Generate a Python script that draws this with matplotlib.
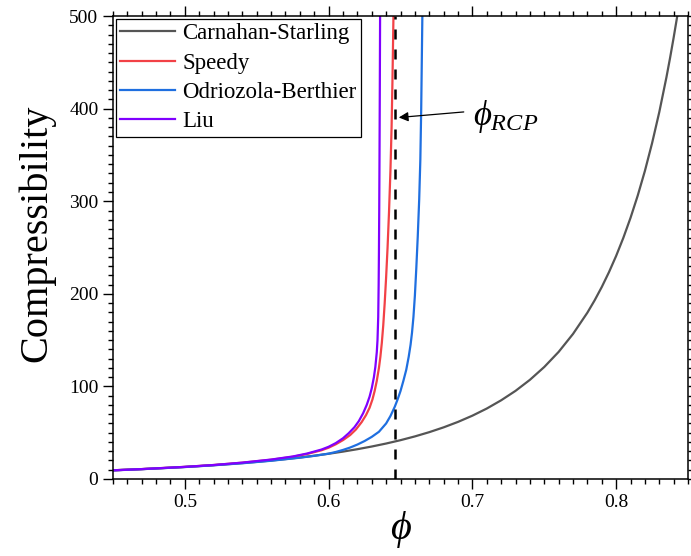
import numpy as np
import matplotlib
matplotlib.use("Agg")
import matplotlib.pyplot as plt
from matplotlib.ticker import MultipleLocator

plt.rcParams['font.family'] = ['Liberation Serif', 'DejaVu Serif']
plt.rcParams['mathtext.fontset'] = 'custom'
plt.rcParams['mathtext.it'] = 'Liberation Serif:italic'
plt.rcParams['mathtext.rm'] = 'Liberation Serif'

# compressibility Z(phi) for each equation of state
phi_cs = [0.45, 0.46, 0.47, 0.48, 0.49, 0.50, 0.51, 0.52, 0.53, 0.54, 0.55,
          0.56, 0.57, 0.58, 0.59, 0.60, 0.61, 0.62, 0.63, 0.64, 0.65, 0.66,
          0.67, 0.68, 0.69, 0.70, 0.71, 0.72, 0.73, 0.74, 0.75, 0.76, 0.77,
          0.78, 0.785, 0.79, 0.795, 0.80, 0.805, 0.81, 0.815, 0.82, 0.825,
          0.83, 0.835, 0.8375, 0.84, 0.8425]
z_cs = [9.39, 10.0, 10.66, 11.38, 12.16, 13.0, 13.92, 14.92, 16.01, 17.2, 18.5,
        19.93, 21.5, 23.23, 25.14, 27.25, 29.59, 32.19, 35.08, 38.31, 41.93, 46.0,
        50.59, 55.79, 61.68, 68.4, 76.1, 85.0, 95.2, 107.1, 121.0, 137.3, 156.7,
        179.7, 192.9, 207.4, 223.4, 241.0, 260.5, 282.1, 306.1, 332.8, 362.8,
        396.3, 434.1, 454.8, 476.8, 500.0]

phi_speedy = [0.45, 0.47, 0.50, 0.52, 0.54, 0.56, 0.575, 0.585, 0.595, 0.60,
              0.605, 0.61, 0.615, 0.619, 0.623, 0.626, 0.6285, 0.6305, 0.632,
              0.6335, 0.635, 0.636, 0.637, 0.638, 0.639, 0.640, 0.641, 0.642,
              0.643, 0.6438, 0.6444, 0.6448, 0.6451]
z_speedy = [9.4, 10.7, 13.1, 15.1, 17.6, 20.8, 24.0, 27.0, 31.0, 33.8,
            37.5, 42.0, 47.5, 53.5, 61.5, 69.0, 77.0, 86.0, 95.0,
            106.0, 120.0, 132.0, 147.0, 166.0, 190.0, 218.0, 250.0, 288.0,
            333.0, 380.0, 430.0, 470.0, 500.0]

phi_ob = [0.45, 0.47, 0.50, 0.52, 0.54, 0.56, 0.58, 0.59, 0.60, 0.605, 0.61,
          0.615, 0.62, 0.625, 0.63, 0.635, 0.64, 0.643, 0.646, 0.648, 0.650,
          0.652, 0.654, 0.6557, 0.657, 0.658, 0.659, 0.660, 0.661, 0.662,
          0.663, 0.6638, 0.6644, 0.6648, 0.6652]
z_ob = [9.3, 10.6, 12.9, 14.8, 17.0, 19.7, 23.0, 25.0, 27.4, 29.2, 31.4,
        34.0, 37.2, 41.0, 45.5, 51.0, 60.0, 68.0, 78.0, 86.0, 95.0,
        106.0, 118.0, 132.0, 145.0, 158.0, 175.0, 198.0, 228.0, 262.0,
        302.0, 345.0, 400.0, 450.0, 500.0]

phi_liu = [0.45, 0.47, 0.50, 0.52, 0.54, 0.56, 0.575, 0.585, 0.595, 0.60,
           0.605, 0.61, 0.614, 0.618, 0.621, 0.624, 0.6265, 0.6285, 0.630,
           0.6315, 0.6325, 0.6335, 0.634, 0.6345, 0.6348, 0.635, 0.6352,
           0.6354, 0.6356, 0.6358]
z_liu = [9.4, 10.7, 13.1, 15.1, 17.7, 21.0, 24.3, 27.5, 31.8, 34.8,
         38.8, 44.0, 49.5, 56.0, 62.5, 71.0, 80.0, 89.0, 98.0,
         110.0, 121.0, 137.0, 150.0, 175.0, 210.0, 245.0, 290.0,
         350.0, 420.0, 500.0]

phi_rcp = 0.646

fig = plt.figure(figsize=(6.91, 5.56), dpi=100)
ax = fig.add_axes([0.1635, 0.1385, 0.8322, 0.8325])

ax.plot(phi_cs, z_cs, color='#555555', lw=1.6, label='Carnahan-Starling')
ax.plot(phi_speedy, z_speedy, color='#F24146', lw=1.6, label='Speedy')
ax.plot(phi_ob, z_ob, color='#1F6FE0', lw=1.6, label='Odriozola-Berthier')
ax.plot(phi_liu, z_liu, color='#8000FF', lw=1.6, label='Liu')

ax.axvline(phi_rcp, color='black', lw=1.8, ls=(0, (4, 4)))

ax.annotate('', xy=(0.6488, 390.5), xytext=(0.694, 396.5),
            arrowprops=dict(arrowstyle='-|>', color='black', lw=0.9,
                            mutation_scale=14, shrinkA=0, shrinkB=0))
ax.text(0.7005, 392, r'$\phi_{RCP}$', fontsize=25, va='center', ha='left')

ax.set_xlim(0.45, 0.85)
ax.set_ylim(0, 500)
ax.xaxis.set_major_locator(MultipleLocator(0.1))
ax.xaxis.set_minor_locator(MultipleLocator(0.01))
ax.yaxis.set_major_locator(MultipleLocator(100))
ax.yaxis.set_minor_locator(MultipleLocator(10))
ax.tick_params(which='both', direction='out', top=True, right=True,
               width=1.0, labelsize=14)
ax.tick_params(which='major', length=7)
ax.tick_params(which='minor', length=3.5)
for s in ax.spines.values():
    s.set_linewidth(1.1)

ax.set_ylabel('Compressibility', fontsize=29)
ax.yaxis.set_label_coords(-0.100, 0.53)
ax.set_xlabel('\u03d5', fontsize=29, style='italic', labelpad=0)

leg = ax.legend(loc='upper left', fontsize=16.5, frameon=True, fancybox=False,
                edgecolor='black', framealpha=1, borderaxespad=0.12,
                borderpad=0.2, handlelength=2.4, handletextpad=0.3,
                labelspacing=0.36)
leg.get_frame().set_linewidth(0.9)

fig.savefig('out.png', dpi=100)
